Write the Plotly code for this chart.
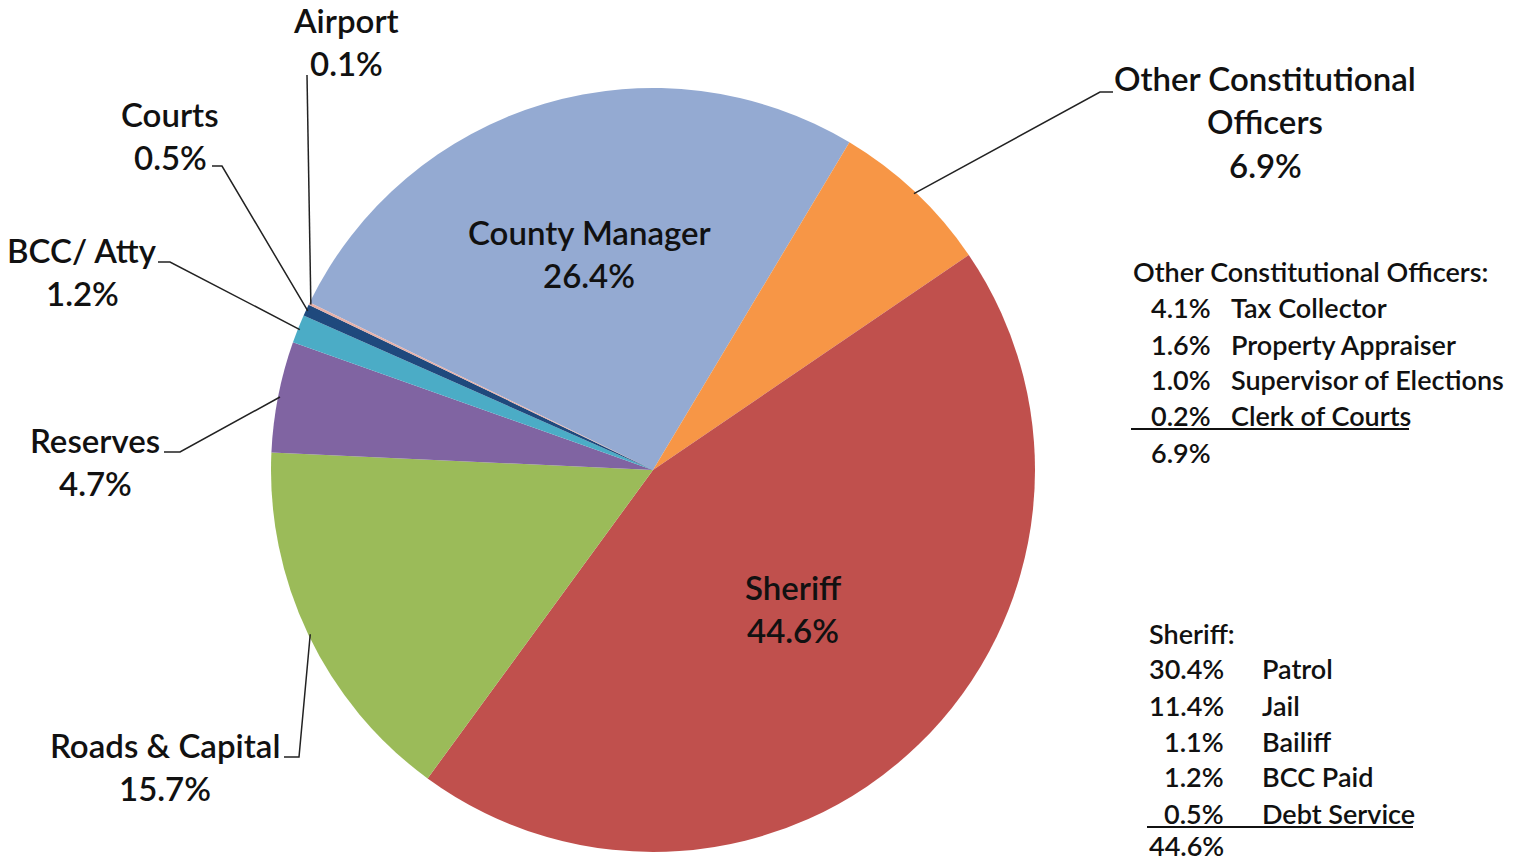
import math
import plotly.graph_objects as go

# ---- data ----
labels = ["County Manager", "Other Constitutional Officers", "Sheriff", "Roads & Capital",
          "Reserves", "BCC/ Atty", "Courts", "Airport"]
values = [26.4, 6.9, 44.6, 15.7, 4.7, 1.2, 0.5, 0.1]
colors = ["#94AAD2", "#F79646", "#C0504D", "#9BBB59", "#8064A2", "#4BACC6", "#1F497D", "#E6B0A8"]

oco_pcts = ["4.1%", "1.6%", "1.0%", "0.2%"]
oco_names = ["Tax Collector", "Property Appraiser", "Supervisor of Elections", "Clerk of Courts"]
oco_total = "6.9%"

sheriff_pcts = ["30.4%", "11.4%", "1.1%", "1.2%", "0.5%"]
sheriff_names = ["Patrol", "Jail", "Bailiff", "BCC Paid", "Debt Service"]
sheriff_total = "44.6%"

# ---- layout helpers ----
W, H = 1518, 859
CX, CY, R = 653, 470, 382
ROT = -64  # clockwise from 12 o'clock
FONT = "Lato"
TXT = "#111111"
LS = 33     # label font size
TS = 27     # table font size
WT = 600


def px(x):
    return x / W


def py(y):
    return 1 - y / H


fig = go.Figure(go.Pie(
    labels=labels, values=values, sort=False, direction="clockwise", rotation=ROT,
    marker=dict(colors=colors, line=dict(width=0)), textinfo="none", hoverinfo="label+percent",
    domain=dict(x=[px(CX - R), px(CX + R)], y=[py(CY + R), py(CY - R)]),
    showlegend=False,
))

annotations = []
shapes = []


def add_text(x, y, text, size=LS, align="center", xanchor="center"):
    annotations.append(dict(x=px(x), y=py(y), xref="paper", yref="paper", text=text,
                            showarrow=False, xanchor=xanchor, yanchor="middle", align=align,
                            font=dict(family=FONT, size=size, color=TXT, weight=WT)))


def mid_point(i, frac=1.0):
    total = sum(values)
    start = 90 - ROT  # math angle of first slice start
    cum = sum(values[:i]) + values[i] / 2
    ang = math.radians(start - cum / total * 360)
    return CX + R * frac * math.cos(ang), CY - R * frac * math.sin(ang)


# label positions (pixel centers of each line) and elbow points for leader lines
label_layout = {
    "County Manager": dict(x=589, ys=[232, 275], lines=None),
    "Sheriff": dict(x=793, ys=[587, 630], lines=None),
    "Airport": dict(x=346, ys=[20, 63], lines=[(307, 75)]),
    "Courts": dict(x=170, ys=[114, 157], lines=[(212, 166), (222, 166)]),
    "BCC/ Atty": dict(x=82, ys=[250, 293], lines=[(158, 262), (170, 262)]),
    "Reserves": dict(x=95, ys=[440, 483], lines=[(164, 452), (180, 452)]),
    "Roads & Capital": dict(x=165, ys=[745, 788], lines=[(284, 757), (299, 757)]),
}

for i, (lab, val) in enumerate(zip(labels, values)):
    if lab == "Other Constitutional Officers":
        add_text(1265, 78, "Other Constitutional")
        add_text(1265, 121, "Officers")
        add_text(1265, 165, f"{val}%")
        pts = [(1113, 92), (1100, 92)]
    else:
        L = label_layout[lab]
        add_text(L["x"], L["ys"][0], lab)
        add_text(L["x"], L["ys"][1], f"{val}%")
        pts = L["lines"]
    if pts:
        ex, ey = mid_point(i, 0.995)
        allp = pts + [(ex, ey)]
        path = "M " + " L ".join(f"{px(a)},{py(b)}" for a, b in allp)
        shapes.append(dict(type="path", xref="paper", yref="paper", path=path,
                           line=dict(color="#222222", width=1.5)))

# Other Constitutional Officers table
add_text(1131, 272, "Other Constitutional Officers:", size=TS, xanchor="left", align="left")
oco_ys = [307, 344, 380, 415]
for p, n, y in zip(oco_pcts, oco_names, oco_ys):
    add_text(1213, y, p, size=TS, xanchor="right", align="right")
    add_text(1229, y, n, size=TS, xanchor="left", align="left")
add_text(1213, 452, oco_total, size=TS, xanchor="right", align="right")
shapes.append(dict(type="line", xref="paper", yref="paper", x0=px(1131), x1=px(1409),
                   y0=py(429), y1=py(429), line=dict(color="#111111", width=2)))

# Sheriff table
add_text(1147, 633, "Sheriff:", size=TS, xanchor="left", align="left")
sh_ys = [668, 705, 741, 776, 813]
for p, n, y in zip(sheriff_pcts, sheriff_names, sh_ys):
    add_text(1226, y, p, size=TS, xanchor="right", align="right")
    add_text(1260, y, n, size=TS, xanchor="left", align="left")
add_text(1226, 845, sheriff_total, size=TS, xanchor="right", align="right")
shapes.append(dict(type="line", xref="paper", yref="paper", x0=px(1147), x1=px(1413),
                   y0=py(827), y1=py(827), line=dict(color="#111111", width=2)))

fig.update_layout(
    width=W, height=H, margin=dict(l=0, r=0, t=0, b=0),
    paper_bgcolor="white", plot_bgcolor="white",
    annotations=annotations, shapes=shapes,
)

fig.write_html("out.html", config={"displayModeBar": False},
               post_script="document.body.style.margin='0';document.body.style.overflow='hidden';")
